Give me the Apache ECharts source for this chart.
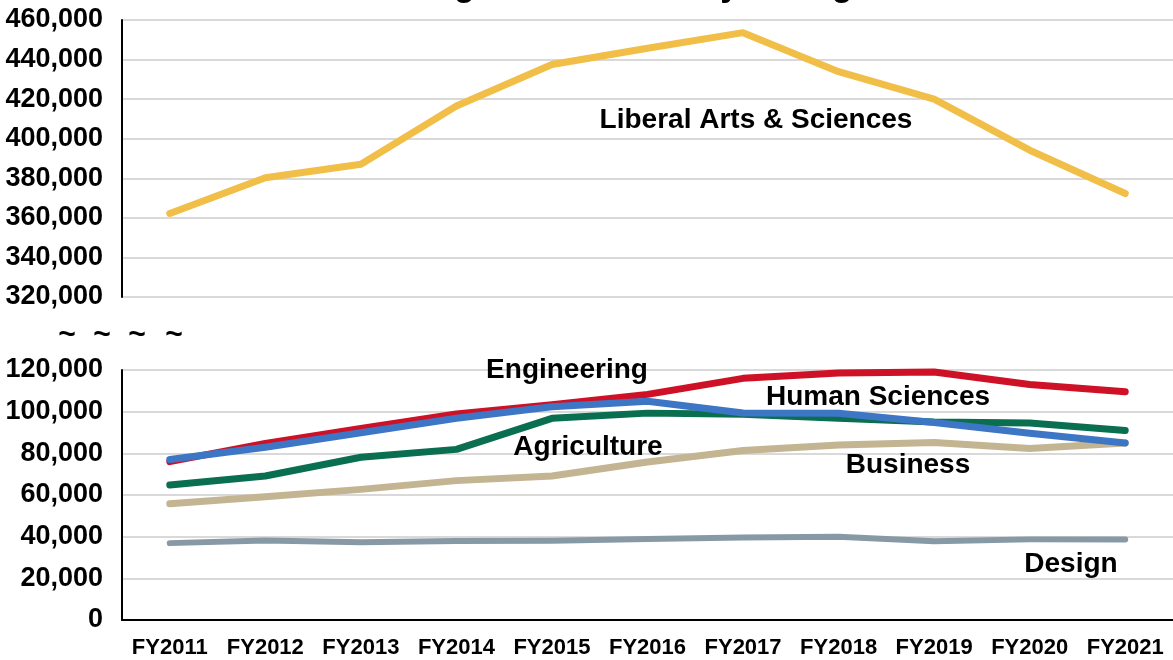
<!DOCTYPE html>
<html>
<head>
<meta charset="utf-8">
<script src="https://cdn.jsdelivr.net/npm/echarts@6/dist/echarts.min.js"></script>
<style>
  html, body { margin: 0; padding: 0; background: #ffffff; }
  #chart { width: 1173px; height: 660px; }
</style>
</head>
<body>
<div id="chart"></div>
<script>
// fiscal years
var years = ['FY2011', 'FY2012', 'FY2013', 'FY2014', 'FY2015', 'FY2016', 'FY2017', 'FY2018', 'FY2019', 'FY2020', 'FY2021'];

// upper panel (broken axis)
var liberalArts = [362200, 380300, 387100, 416500, 437500, 445700, 453600, 433900, 420000, 394200, 372300];

// lower panel
var engineering = [76000, 84800, 92000, 98900, 103300, 108300, 116000, 118600, 119000, 113000, 109600];
var humanSciences = [77000, 82900, 89900, 96800, 102400, 105000, 99400, 99200, 94800, 89600, 85000];
var agriculture = [64800, 69100, 78100, 81900, 96800, 99300, 98800, 96800, 95000, 94600, 91000];
var business = [55800, 59200, 62700, 66900, 69100, 75800, 81400, 84000, 85200, 82300, 85000];
var design = [36900, 38200, 37300, 37900, 38100, 38900, 39600, 40000, 37800, 38700, 38700];

var FONT = '"Liberation Sans", Arial, sans-serif';

function lineSeries(name, data, color, width, idx) {
  return {
    name: name,
    type: 'line',
    xAxisIndex: idx,
    yAxisIndex: idx,
    data: data,
    symbol: 'none',
    smooth: false,
    lineStyle: { color: color, width: width, cap: 'round', join: 'round' },
    z: 3
  };
}

function label(text, x, y) {
  return {
    type: 'text',
    x: x,
    y: y,
    style: {
      text: text,
      fill: '#000',
      font: 'bold 28px ' + FONT,
      textAlign: 'center',
      textVerticalAlign: 'middle'
    },
    z: 20
  };
}

// the "~ ~ ~ ~" break mark between the two panels
function tilde(x) {
  return {
    type: 'text',
    x: x,
    y: 336,
    style: {
      text: '~',
      fill: '#000',
      font: 'bold 30px ' + FONT,
      textAlign: 'center',
      textVerticalAlign: 'middle'
    }
  };
}

var chart = echarts.init(document.getElementById('chart'), null, { renderer: 'canvas' });

var yLabel = {
  color: '#000',
  fontWeight: 'bold',
  fontSize: 27,
  fontFamily: FONT,
  margin: 19,
  formatter: function (v) { return v.toLocaleString('en-US'); }
};

var option = {
  backgroundColor: '#ffffff',
  animation: false,
  grid: [
    { left: 122, right: -5, top: 20, height: 277 },
    { left: 122, right: -5, top: 370, height: 250 }
  ],
  xAxis: [
    { type: 'category', gridIndex: 0, data: years, show: false },
    {
      type: 'category',
      gridIndex: 1,
      data: years,
      axisLine: { lineStyle: { color: '#000', width: 2 } },
      axisTick: { show: false },
      axisLabel: {
        color: '#000', fontWeight: 'bold', fontSize: 22, fontFamily: FONT,
        margin: 17, interval: 0, hideOverlap: false
      }
    }
  ],
  yAxis: [
    {
      type: 'value',
      gridIndex: 0,
      min: 320000,
      max: 460000,
      interval: 20000,
      axisLine: { show: true, lineStyle: { color: '#000', width: 2 } },
      axisTick: { show: false },
      axisLabel: yLabel,
      splitLine: { lineStyle: { color: '#d9d9d9', width: 2 } }
    },
    {
      type: 'value',
      gridIndex: 1,
      min: 0,
      max: 120000,
      interval: 20000,
      axisLine: { show: true, lineStyle: { color: '#000', width: 2 } },
      axisTick: { show: false },
      axisLabel: yLabel,
      splitLine: { lineStyle: { color: '#d9d9d9', width: 2 } }
    }
  ],
  series: [
    lineSeries('Liberal Arts & Sciences', liberalArts, '#F1BE48', 7, 0),
    lineSeries('Design', design, '#8899A6', 6, 1),
    lineSeries('Business', business, '#C4B592', 7, 1),
    lineSeries('Agriculture', agriculture, '#0A6E50', 7, 1),
    lineSeries('Engineering', engineering, '#CE1126', 7, 1),
    lineSeries('Human Sciences', humanSciences, '#3D76C5', 7, 1)
  ],
  graphic: [
    // chart title, cut off by the top edge of the picture
    {
      type: 'text',
      x: 328,
      y: -13,
      style: {
        text: 'Teaching Credit Hours by College',
        fill: '#000',
        font: 'bold 34px ' + FONT,
        textAlign: 'left',
        textVerticalAlign: 'middle'
      }
    },
    label('Liberal Arts & Sciences', 756, 120),
    label('Engineering', 567, 370),
    label('Human Sciences', 878, 397),
    label('Agriculture', 588, 447),
    label('Business', 908, 465),
    label('Design', 1071, 564),
    tilde(67), tilde(102), tilde(137), tilde(174)
  ]
};

chart.setOption(option);
</script>
</body>
</html>
